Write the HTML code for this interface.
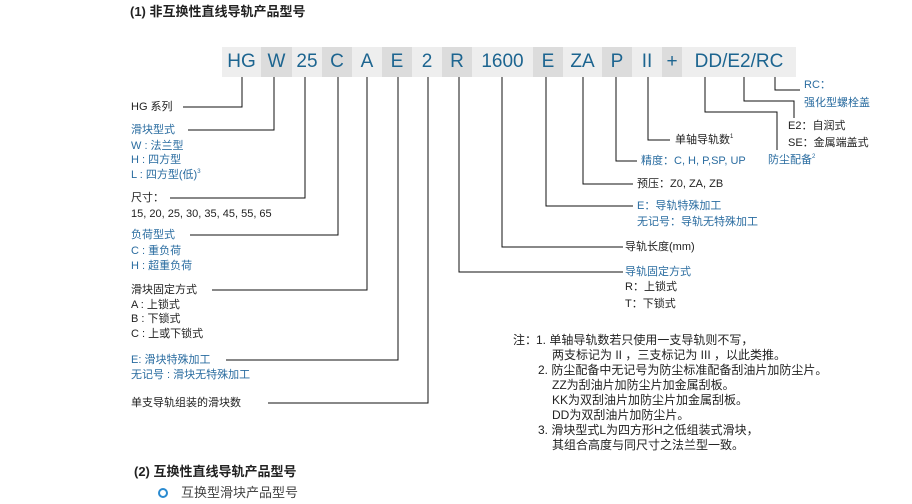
<!DOCTYPE html>
<html><head><meta charset="utf-8"><style>
body{margin:0;width:912px;height:504px;background:#fff;position:relative;overflow:hidden;font-family:"Liberation Sans","Noto Sans CJK SC",sans-serif;}
.t{position:absolute;font-size:11px;line-height:14px;white-space:nowrap;color:#222;}
.n{font-size:12px;line-height:14px}
.b{color:#2a6ca0;}
.box{position:absolute;top:47px;height:30px;line-height:30px;text-align:center;font-size:19px;color:#1d6590;}
.l{background:#eeeeee}.d{background:#dcdcdc}
sup{font-size:6px;vertical-align:top;line-height:8px}
</style></head><body>
<div class="t" style="left:130px;top:4px;font-size:13px;font-weight:bold;line-height:16px">(1) 非互换性直线导轨产品型号</div>

<div class="box l" style="left:222px;width:39px">HG</div>
<div class="box d" style="left:261px;width:31px">W</div>
<div class="box l" style="left:292px;width:30px">25</div>
<div class="box d" style="left:322px;width:30px">C</div>
<div class="box l" style="left:352px;width:30px">A</div>
<div class="box d" style="left:382px;width:30px">E</div>
<div class="box l" style="left:412px;width:30px">2</div>
<div class="box d" style="left:442px;width:30px">R</div>
<div class="box l" style="left:472px;width:61px">1600</div>
<div class="box d" style="left:533px;width:30px">E</div>
<div class="box l" style="left:563px;width:39px">ZA</div>
<div class="box d" style="left:602px;width:30px">P</div>
<div class="box l" style="left:632px;width:30px">II</div>
<div class="box d" style="left:662px;width:20px">+</div>
<div class="box l" style="left:682px;width:114px">DD/E2/RC</div>

<svg style="position:absolute;left:0;top:0" width="912" height="504">
<g stroke="#111" stroke-width="1" fill="none">
<polyline points="242,77 242,107 183,107"/>
<polyline points="274,77 274,130 188,130"/>
<polyline points="305,77 305,198 170,198"/>
<polyline points="338,77 338,235 190,235"/>
<polyline points="367,77 367,290 212,290"/>
<polyline points="398,77 398,360 226,360"/>
<polyline points="428,77 428,403 268,403"/>
<polyline points="459,77 459,272 623,272"/>
<polyline points="502,77 502,247 623,247"/>
<polyline points="546,77 546,206 633,206"/>
<polyline points="583,77 583,184 633,184"/>
<polyline points="616,77 616,161 637,161"/>
<polyline points="648,77 648,140 670,140"/>
<polyline points="705,77 705,112 777,112 777,150"/>
<polyline points="744,77 744,101 794,101 794,118"/>
<polyline points="775,77 775,90 800,90"/>
</g>
<circle cx="163" cy="493" r="4" stroke="#2a8ad0" stroke-width="2" fill="none"/>
</svg>

<div class="t" style="left:131px;top:100px">HG 系列</div>
<div class="t b" style="left:131px;top:123px">滑块型式</div>
<div class="t b" style="left:131px;top:139px">W : 法兰型</div>
<div class="t b" style="left:131px;top:153px">H : 四方型</div>
<div class="t b" style="left:131px;top:168px">L : 四方型(低)<sup>3</sup></div>
<div class="t" style="left:131px;top:191px">尺寸：</div>
<div class="t" style="left:131px;top:207px">15, 20, 25, 30, 35, 45, 55, 65</div>
<div class="t b" style="left:131px;top:228px">负荷型式</div>
<div class="t b" style="left:131px;top:244px">C : 重负荷</div>
<div class="t b" style="left:131px;top:259px">H : 超重负荷</div>
<div class="t" style="left:131px;top:283px">滑块固定方式</div>
<div class="t" style="left:131px;top:298px">A : 上锁式</div>
<div class="t" style="left:131px;top:312px">B : 下锁式</div>
<div class="t" style="left:131px;top:327px">C : 上或下锁式</div>
<div class="t b" style="left:131px;top:353px">E: 滑块特殊加工</div>
<div class="t b" style="left:131px;top:368px">无记号 : 滑块无特殊加工</div>
<div class="t" style="left:131px;top:396px">单支导轨组装的滑块数</div>

<div class="t b" style="left:804px;top:78px">RC：</div>
<div class="t b" style="left:804px;top:96px">强化型螺栓盖</div>
<div class="t" style="left:788px;top:119px">E2：自润式</div>
<div class="t" style="left:788px;top:136px">SE：金属端盖式</div>
<div class="t b" style="left:768px;top:153px">防尘配备<sup>2</sup></div>
<div class="t" style="left:675px;top:133px">单轴导轨数<sup>1</sup></div>
<div class="t b" style="left:641px;top:154px">精度：C, H, P,SP, UP</div>
<div class="t" style="left:637px;top:177px">预压：Z0, ZA, ZB</div>
<div class="t b" style="left:637px;top:199px">E：导轨特殊加工</div>
<div class="t b" style="left:637px;top:215px">无记号：导轨无特殊加工</div>
<div class="t" style="left:625px;top:240px">导轨长度(mm)</div>
<div class="t b" style="left:625px;top:265px">导轨固定方式</div>
<div class="t" style="left:625px;top:280px">R：上锁式</div>
<div class="t" style="left:625px;top:297px">T：下锁式</div>

<div class="t n" style="left:513px;top:333px">注：</div>
<div class="t n" style="left:536px;top:333px">1. 单轴导轨数若只使用一支导轨则不写，</div>
<div class="t n" style="left:552px;top:348px">两支标记为 II ，三支标记为 III ，以此类推。</div>
<div class="t n" style="left:538px;top:363px">2. 防尘配备中无记号为防尘标准配备刮油片加防尘片。</div>
<div class="t n" style="left:552px;top:378px">ZZ为刮油片加防尘片加金属刮板。</div>
<div class="t n" style="left:552px;top:393px">KK为双刮油片加防尘片加金属刮板。</div>
<div class="t n" style="left:552px;top:408px">DD为双刮油片加防尘片。</div>
<div class="t n" style="left:538px;top:423px">3. 滑块型式L为四方形H之低组装式滑块，</div>
<div class="t n" style="left:552px;top:438px">其组合高度与同尺寸之法兰型一致。</div>

<div class="t" style="left:134px;top:464px;font-size:13px;line-height:16px;font-weight:bold">(2) 互换性直线导轨产品型号</div>
<div class="t" style="left:181px;top:485px;font-size:13px;line-height:16px;color:#444">互换型滑块产品型号</div>
</body></html>
